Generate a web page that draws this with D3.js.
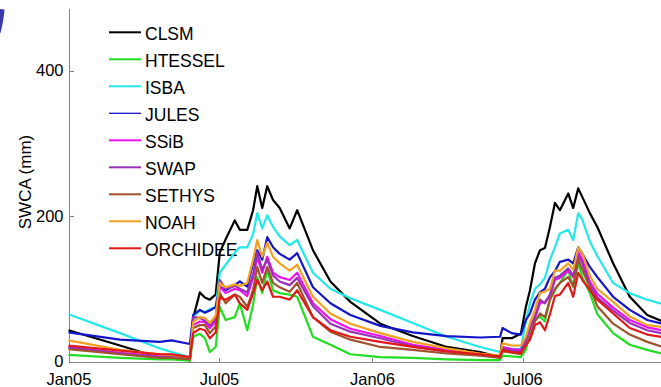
<!DOCTYPE html>
<meta charset="utf-8">
<style>

body { margin: 0; background: #fff; }

.series {
  fill: none;
  stroke-width: 2.2px;
  stroke-linejoin: round;
}

.axis path, .axis line {
  stroke: #858585;
  shape-rendering: crispEdges;
}

text {
  font-family: "Liberation Sans", Arial, sans-serif;
  fill: #000;
}

</style>
<body>
<script src="https://cdn.jsdelivr.net/npm/d3@7"></script>
<script>

// sample dates (denser where the curves wiggle)
var dates = ["2005-01-01","2005-03-04","2005-04-21","2005-05-05","2005-05-27",
             "2005-05-31","2005-06-08","2005-06-14","2005-06-20","2005-06-27",
             "2005-07-02","2005-07-09","2005-07-20","2005-07-26","2005-08-04",
             "2005-08-11","2005-08-16","2005-08-22","2005-08-28","2005-09-04",
             "2005-09-12","2005-09-24","2005-10-03","2005-10-22","2005-11-12",
             "2005-12-06","2006-01-11","2006-02-19","2006-04-01","2006-05-11",
             "2006-06-04","2006-06-07","2006-06-18","2006-06-29","2006-07-05",
             "2006-07-10","2006-07-16","2006-07-22","2006-07-28","2006-08-03",
             "2006-08-09","2006-08-15","2006-08-25","2006-08-31","2006-09-06",
             "2006-09-11","2006-09-20","2006-09-29","2006-10-18","2006-11-07",
             "2006-11-28","2006-12-19"];

// SWCA (mm) per model
var clsm = [43,22,5,4,2, 60,95,88,85,92, 150,168,194,181,181, 208,241,211,241,222,
            211,183,208,153,110, 82,52,35,20,13, 6,32,32,38,75, 98,135,153,156,185,
            218,208,231,211,238, 226,204,185,135,89, 64,54];
var htessel = [9,5,3,3,1, 34,38,32,13,20, 75,57,61,80,43, 78,116,94,126,98,
               94,92,89,34,23, 10,6,5,3,2, 2,8,7,6,16, 39,57,62,55,85,
               98,108,126,102,135, 116,94,65,39,23, 16,10];
var isba = [65,39,18,13,6, 62,70,68,72,75, 122,133,150,157,157, 175,204,183,201,185,
            172,160,167,122,100, 87,71,53,34,20, 13,18,17,17,55, 80,100,106,115,140,
            157,176,181,167,204, 195,165,145,108,94, 85,78];
var jules = [40,30,27,29,24, 64,71,67,70,75, 103,98,105,110,103, 135,153,140,171,157,
             148,140,149,102,80, 64,49,40,35,33, 34,46,39,37,57, 66,85,95,100,116,
             124,137,140,135,157, 148,130,116,89,71, 57,51];
var ssib = [20,12,7,7,4, 50,55,54,46,55, 103,94,100,98,90, 115,144,122,144,122,
            116,112,122,80,58, 45,35,23,16,10, 7,20,17,16,28, 45,60,80,82,90,
            112,115,125,116,150, 140,110,93,74,57, 47,42];
var swap = [19,11,6,6,4, 61,60,56,50,58, 112,100,104,100,95, 120,150,126,140,118,
            110,105,115,76,52, 41,32,21,14,9, 6,18,15,14,30, 48,62,85,80,92,
            115,118,128,118,145, 135,105,88,70,53, 43,38];
var sethys = [17,10,5,5,3, 46,50,50,39,48, 94,80,92,89,75, 98,130,108,130,108,
              102,96,108,61,41, 30,20,16,11,8, 5,14,12,10,22, 34,55,66,61,85,
              100,108,116,104,140, 126,102,76,52,37, 27,19];
var noah = [29,16,10,9,6, 54,61,60,53,63, 108,102,106,104,108, 140,167,144,163,144,
            135,125,133,89,66, 52,39,27,18,11, 8,25,22,22,34, 53,71,94,96,100,
            125,125,135,126,157, 149,118,100,82,62, 50,47];
var orchidee = [22,15,10,10,6, 39,45,43,32,40, 88,85,92,80,71, 94,112,98,110,89,
                89,85,98,61,43, 34,27,20,14,10, 7,16,13,12,22, 30,50,54,43,65,
                90,92,108,89,122, 112,98,85,66,46, 37,33];

var models = ["CLSM", "HTESSEL", "ISBA", "JULES", "SSiB", "SWAP", "SETHYS", "NOAH", "ORCHIDEE"];
var values = [clsm, htessel, isba, jules, ssib, swap, sethys, noah, orchidee];
var colors = ["#000000", "#22dd22", "#22e8e8", "#1414c8", "#ee10ee", "#9a30b8", "#a0522d", "#f2a020", "#e01818"];

var xTicks = ["2005-01-01", "2005-07-01", "2006-01-01", "2006-07-01"];
var yTicks = [0, 200, 400];

var width = 661,
    height = 387;

var parse = d3.timeParse("%Y-%m-%d");

var x = d3.scaleTime()
    .domain([parse("2005-01-01"), parse("2007-01-01")])
    .range([68.5, 675.5]);

var y = d3.scaleLinear()
    .domain([0, 486])
    .range([361.5, 8]);

var svg = d3.select("body").append("svg")
    .attr("width", width)
    .attr("height", height);

// stray mark from the neighbouring panel
svg.append("path")
    .attr("d", "M0,9L4.5,9.5C4,17 2.5,25 0.5,33L0,33Z")
    .attr("fill", "#3a3aa8");

svg.append("g")
    .attr("class", "axis")
    .attr("transform", "translate(" + x.range()[0] + ",0)")
    .call(d3.axisLeft(y).tickValues(yTicks).tickSizeInner(-5).tickSizeOuter(0).tickPadding(5))
    .call(function(g) { g.selectAll("text").style("font-size", "16.5px").attr("fill", "#000"); });

svg.append("g")
    .attr("class", "axis")
    .attr("transform", "translate(0," + y.range()[0] + ")")
    .call(d3.axisBottom(x).tickValues(xTicks.map(parse)).tickFormat(d3.timeFormat("%b%y"))
      .tickSizeInner(-4).tickSizeOuter(0).tickPadding(12))
    .call(function(g) { g.selectAll("text").style("font-size", "16.5px").attr("fill", "#000"); });

svg.append("text")
    .attr("transform", "translate(25,182) rotate(-90)")
    .attr("text-anchor", "middle")
    .attr("dy", "0.35em")
    .style("font-size", "17px")
    .text("SWCA (mm)");

// legend (lines get drawn over it, as in the original)
var legend = svg.append("g").selectAll("g")
    .data(models)
  .enter().append("g")
    .attr("transform", function(d, i) { return "translate(109," + (32.3 + 27 * i) + ")"; });

legend.append("line")
    .attr("x1", 0)
    .attr("x2", 32)
    .attr("stroke", function(d, i) { return colors[i]; })
    .attr("stroke-width", function(d) { return d === "JULES" ? 1.3 : 2; });

legend.append("text")
    .attr("x", 36)
    .attr("y", 8)
    .style("font-size", "17.5px")
    .text(function(d) { return d; });

var line = d3.line()
    .x(function(d) { return x(d.date); })
    .y(function(d) { return y(d.value); });

var series = models.map(function(m, i) {
  return values[i].map(function(v, j) { return {date: parse(dates[j]), value: v}; });
});

svg.append("g").selectAll("path")
    .data(series)
  .enter().append("path")
    .attr("class", "series")
    .attr("stroke", function(d, i) { return colors[i]; })
    .attr("d", line);

</script>
